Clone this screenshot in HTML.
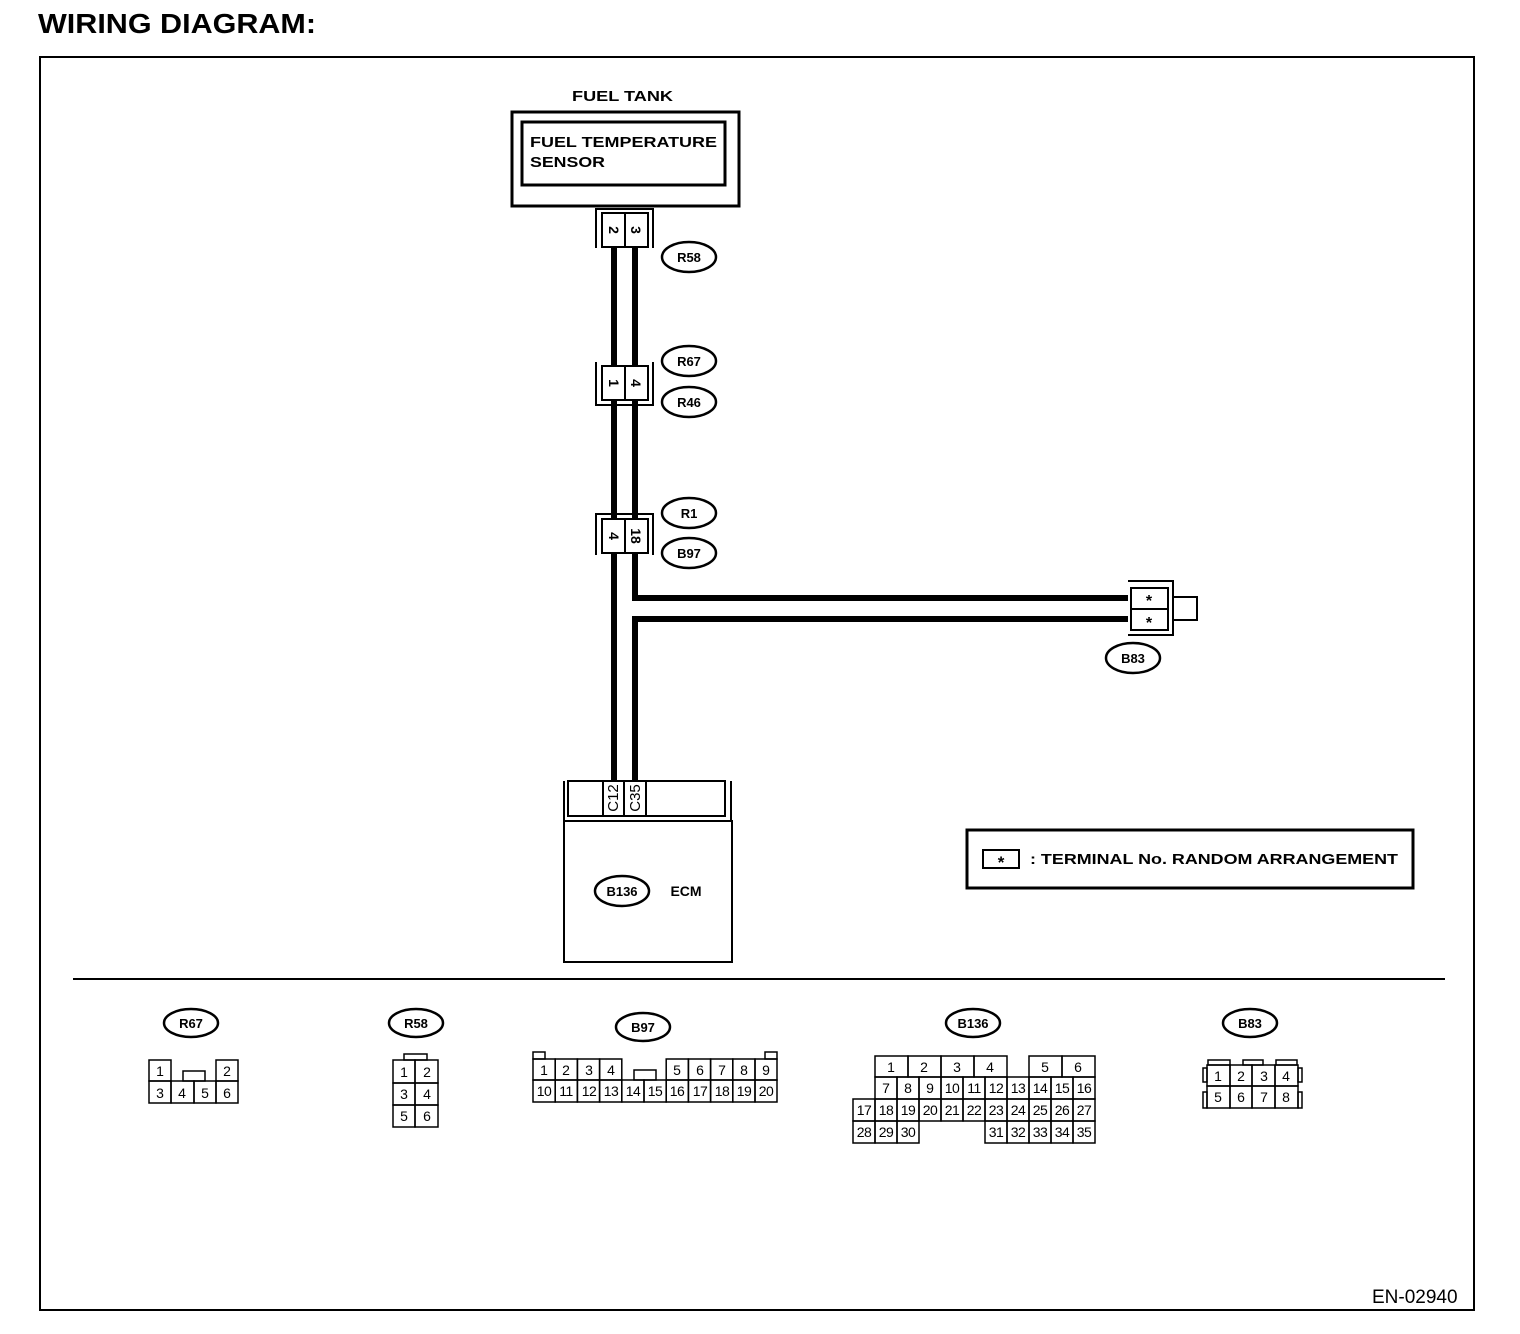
<!DOCTYPE html>
<html><head><meta charset="utf-8"><style>
html,body{margin:0;padding:0;background:#fff;}
svg{display:block;}
text{font-family:"Liberation Sans",Arial,sans-serif;fill:#000;}
.b{font-weight:bold;}
.d{font-size:14px;text-anchor:middle;}
</style></head><body>
<svg width="1520" height="1334" viewBox="0 0 1520 1334" xmlns="http://www.w3.org/2000/svg">
<text x="38" y="33" class="b" font-size="28" textLength="278" lengthAdjust="spacingAndGlyphs">WIRING DIAGRAM:</text>
<rect x="40" y="57" width="1434" height="1253" fill="none" stroke="#000" stroke-width="2"/>

<g fill="none" stroke="#000">
<rect x="512" y="112" width="227" height="94" stroke-width="3"/>
<rect x="522" y="122" width="203" height="63" stroke-width="3"/>
<path d="M614,248 V781" stroke-width="6"/>
<path d="M635,248 V598 H1128" stroke-width="6"/>
<path d="M1128,619 H635 V781" stroke-width="6"/>
<path d="M596,208 V248 M653,208 V248 M596,209 H653" stroke-width="2"/>
<rect x="602" y="213" width="46" height="34" fill="#fff" stroke-width="2"/>
<line x1="625" y1="213" x2="625" y2="247" stroke-width="2"/>
<path d="M596,362 V405 H653 V362" stroke-width="2"/>
<rect x="602" y="366" width="46" height="34" fill="#fff" stroke-width="2"/>
<line x1="625" y1="366" x2="625" y2="400" stroke-width="2"/>
<path d="M596,555 V514 H653 V555" stroke-width="2"/>
<rect x="602" y="519" width="46" height="34" fill="#fff" stroke-width="2"/>
<line x1="625" y1="519" x2="625" y2="553" stroke-width="2"/>
<ellipse cx="689" cy="257" rx="27" ry="15" stroke-width="2.5"/>
<ellipse cx="689" cy="361" rx="27" ry="15" stroke-width="2.5"/>
<ellipse cx="689" cy="402" rx="27" ry="15" stroke-width="2.5"/>
<ellipse cx="689" cy="513" rx="27" ry="15" stroke-width="2.5"/>
<ellipse cx="689" cy="553" rx="27" ry="15" stroke-width="2.5"/>
<path d="M1128,581 H1173 V635 H1128" stroke-width="2"/>
<rect x="1131" y="588" width="37" height="42" fill="#fff" stroke-width="2"/>
<line x1="1131" y1="609" x2="1168" y2="609" stroke-width="2"/>
<rect x="1173" y="597" width="24" height="23" stroke-width="2"/>
<ellipse cx="1133" cy="658" rx="27" ry="15" stroke-width="2.5"/>
<path d="M564,781 V820 M731,781 V820" stroke-width="2"/>
<rect x="568" y="781" width="157" height="35" stroke-width="2"/>
<line x1="603" y1="781" x2="603" y2="816" stroke-width="2"/>
<line x1="624" y1="781" x2="624" y2="816" stroke-width="2"/>
<line x1="646" y1="781" x2="646" y2="816" stroke-width="2"/>
<rect x="564" y="821" width="168" height="141" stroke-width="2"/>
<ellipse cx="622" cy="891" rx="27" ry="15" stroke-width="2.5"/>
<rect x="967" y="830" width="446" height="58" stroke-width="3"/>
<rect x="983" y="850" width="36" height="18" stroke-width="2"/>
<line x1="73" y1="979" x2="1445" y2="979" stroke-width="2"/>
<ellipse cx="191" cy="1023" rx="27" ry="14" stroke-width="2.5"/>
<ellipse cx="416" cy="1023" rx="27" ry="14" stroke-width="2.5"/>
<ellipse cx="643" cy="1027" rx="27" ry="14" stroke-width="2.5"/>
<ellipse cx="973" cy="1023" rx="27" ry="14" stroke-width="2.5"/>
<ellipse cx="1250" cy="1023" rx="27" ry="14" stroke-width="2.5"/>
</g>

<text x="572" y="101" class="b" font-size="15" textLength="101" lengthAdjust="spacingAndGlyphs">FUEL TANK</text>
<text x="530" y="147" class="b" font-size="15" textLength="187" lengthAdjust="spacingAndGlyphs">FUEL TEMPERATURE</text>
<text x="530" y="167" class="b" font-size="15" textLength="75" lengthAdjust="spacingAndGlyphs">SENSOR</text>
<g class="b" font-size="13" text-anchor="middle">
<text x="689" y="262">R58</text><text x="689" y="366">R67</text><text x="689" y="407">R46</text>
<text x="689" y="518">R1</text><text x="689" y="558">B97</text>
<text x="1133" y="663">B83</text><text x="622" y="896">B136</text>
<text x="191" y="1028">R67</text><text x="416" y="1028">R58</text><text x="643" y="1032">B97</text>
<text x="973" y="1028">B136</text><text x="1250" y="1028">B83</text>
</g>
<g font-size="14" class="b">
<text transform="translate(609,230) rotate(90)" text-anchor="middle">2</text>
<text transform="translate(631,230) rotate(90)" text-anchor="middle">3</text>
<text transform="translate(609,383) rotate(90)" text-anchor="middle">1</text>
<text transform="translate(631,383) rotate(90)" text-anchor="middle">4</text>
<text transform="translate(609,536) rotate(90)" text-anchor="middle">4</text>
<text transform="translate(631,536) rotate(90)" text-anchor="middle">18</text>
<text transform="translate(618,798) rotate(-90)" text-anchor="middle" font-weight="normal" font-size="15">C12</text>
<text transform="translate(640,798) rotate(-90)" text-anchor="middle" font-weight="normal" font-size="15">C35</text>
</g>
<text x="1149" y="606" class="b" font-size="16" text-anchor="middle">*</text>
<text x="1149" y="628" class="b" font-size="16" text-anchor="middle">*</text>
<text x="686" y="896" class="b" font-size="14" text-anchor="middle">ECM</text>
<text x="1001" y="868" class="b" font-size="17" text-anchor="middle">*</text>
<text x="1030" y="864" class="b" font-size="15" textLength="368" lengthAdjust="spacingAndGlyphs">: TERMINAL No. RANDOM ARRANGEMENT</text>
<text x="1372" y="1303" font-size="19">EN-02940</text>

<g fill="none" stroke="#000" stroke-width="1.5">
<rect x="149" y="1060" width="22" height="21"/><rect x="216" y="1060" width="22" height="21"/>
<rect x="183" y="1071" width="22" height="10"/>
<rect x="149" y="1081" width="22" height="22"/><rect x="171" y="1081" width="23" height="22"/>
<rect x="194" y="1081" width="22" height="22"/><rect x="216" y="1081" width="22" height="22"/>
</g>
<g class="d"><text x="160" y="1076">1</text><text x="227" y="1076">2</text>
<text x="160" y="1098">3</text><text x="182" y="1098">4</text><text x="205" y="1098">5</text><text x="227" y="1098">6</text></g>

<g fill="none" stroke="#000" stroke-width="1.5">
<rect x="404" y="1054" width="23" height="6"/>
<rect x="393" y="1060" width="22" height="23"/><rect x="415" y="1060" width="23" height="23"/>
<rect x="393" y="1083" width="22" height="22"/><rect x="415" y="1083" width="23" height="22"/>
<rect x="393" y="1105" width="22" height="22"/><rect x="415" y="1105" width="23" height="22"/>
</g>
<g class="d"><text x="404" y="1077">1</text><text x="427" y="1077">2</text>
<text x="404" y="1099">3</text><text x="427" y="1099">4</text>
<text x="404" y="1121">5</text><text x="427" y="1121">6</text></g>

<g fill="none" stroke="#000" stroke-width="1.5">
<rect x="533" y="1052" width="12" height="7"/><rect x="765" y="1052" width="12" height="7"/>
<rect x="533" y="1059" width="22.2" height="21"/><rect x="555.2" y="1059" width="22.2" height="21"/>
<rect x="577.4" y="1059" width="22.2" height="21"/><rect x="599.6" y="1059" width="22.2" height="21"/>
<rect x="666.2" y="1059" width="22.2" height="21"/><rect x="688.4" y="1059" width="22.2" height="21"/>
<rect x="710.6" y="1059" width="22.2" height="21"/><rect x="732.8" y="1059" width="22.2" height="21"/>
<rect x="755" y="1059" width="22" height="21"/>
<rect x="634" y="1070" width="22" height="10"/>
<rect x="533" y="1080" width="22.2" height="22"/><rect x="555.2" y="1080" width="22.2" height="22"/>
<rect x="577.4" y="1080" width="22.2" height="22"/><rect x="599.6" y="1080" width="22.2" height="22"/>
<rect x="621.8" y="1080" width="22.2" height="22"/><rect x="644" y="1080" width="22.2" height="22"/>
<rect x="666.2" y="1080" width="22.2" height="22"/><rect x="688.4" y="1080" width="22.2" height="22"/>
<rect x="710.6" y="1080" width="22.2" height="22"/><rect x="732.8" y="1080" width="22.2" height="22"/>
<rect x="755" y="1080" width="22" height="22"/>
</g>
<g class="d">
<text x="544" y="1075">1</text><text x="566" y="1075">2</text><text x="589" y="1075">3</text><text x="611" y="1075">4</text>
<text x="677" y="1075">5</text><text x="700" y="1075">6</text><text x="722" y="1075">7</text><text x="744" y="1075">8</text><text x="766" y="1075">9</text>
</g>
<g class="d" font-size="13" letter-spacing="-0.5">
<text x="544" y="1096">10</text><text x="566" y="1096">11</text><text x="589" y="1096">12</text><text x="611" y="1096">13</text>
<text x="633" y="1096">14</text><text x="655" y="1096">15</text><text x="677" y="1096">16</text><text x="700" y="1096">17</text>
<text x="722" y="1096">18</text><text x="744" y="1096">19</text><text x="766" y="1096">20</text>
</g>

<g fill="none" stroke="#000" stroke-width="1.5">
<rect x="875" y="1056" width="33" height="21"/><rect x="908" y="1056" width="33" height="21"/>
<rect x="941" y="1056" width="33" height="21"/><rect x="974" y="1056" width="33" height="21"/>
<rect x="1029" y="1056" width="33" height="21"/><rect x="1062" y="1056" width="33" height="21"/>
<rect x="875" y="1077" width="22" height="22"/><rect x="897" y="1077" width="22" height="22"/>
<rect x="919" y="1077" width="22" height="22"/><rect x="941" y="1077" width="22" height="22"/>
<rect x="963" y="1077" width="22" height="22"/><rect x="985" y="1077" width="22" height="22"/>
<rect x="1007" y="1077" width="22" height="22"/><rect x="1029" y="1077" width="22" height="22"/>
<rect x="1051" y="1077" width="22" height="22"/><rect x="1073" y="1077" width="22" height="22"/>
<rect x="853" y="1099" width="22" height="22"/><rect x="875" y="1099" width="22" height="22"/>
<rect x="897" y="1099" width="22" height="22"/><rect x="919" y="1099" width="22" height="22"/>
<rect x="941" y="1099" width="22" height="22"/><rect x="963" y="1099" width="22" height="22"/>
<rect x="985" y="1099" width="22" height="22"/><rect x="1007" y="1099" width="22" height="22"/>
<rect x="1029" y="1099" width="22" height="22"/><rect x="1051" y="1099" width="22" height="22"/>
<rect x="1073" y="1099" width="22" height="22"/>
<rect x="853" y="1121" width="22" height="22"/><rect x="875" y="1121" width="22" height="22"/>
<rect x="897" y="1121" width="22" height="22"/>
<rect x="985" y="1121" width="22" height="22"/><rect x="1007" y="1121" width="22" height="22"/>
<rect x="1029" y="1121" width="22" height="22"/><rect x="1051" y="1121" width="22" height="22"/>
<rect x="1073" y="1121" width="22" height="22"/>
</g>
<g class="d">
<text x="891" y="1072">1</text><text x="924" y="1072">2</text><text x="957" y="1072">3</text><text x="990" y="1072">4</text>
<text x="1045" y="1072">5</text><text x="1078" y="1072">6</text>
<text x="886" y="1093">7</text><text x="908" y="1093">8</text><text x="930" y="1093">9</text>
</g>
<g class="d" font-size="13" letter-spacing="-0.5">
<text x="952" y="1093">10</text><text x="974" y="1093">11</text><text x="996" y="1093">12</text><text x="1018" y="1093">13</text>
<text x="1040" y="1093">14</text><text x="1062" y="1093">15</text><text x="1084" y="1093">16</text>
<text x="864" y="1115">17</text><text x="886" y="1115">18</text><text x="908" y="1115">19</text><text x="930" y="1115">20</text>
<text x="952" y="1115">21</text><text x="974" y="1115">22</text><text x="996" y="1115">23</text><text x="1018" y="1115">24</text>
<text x="1040" y="1115">25</text><text x="1062" y="1115">26</text><text x="1084" y="1115">27</text>
<text x="864" y="1137">28</text><text x="886" y="1137">29</text><text x="908" y="1137">30</text>
<text x="996" y="1137">31</text><text x="1018" y="1137">32</text><text x="1040" y="1137">33</text>
<text x="1062" y="1137">34</text><text x="1084" y="1137">35</text>
</g>

<g fill="none" stroke="#000" stroke-width="1.5">
<rect x="1208" y="1060" width="22" height="5"/><rect x="1243" y="1060" width="20" height="5"/><rect x="1276" y="1060" width="21" height="5"/>
<rect x="1203" y="1068" width="4" height="14"/><rect x="1203" y="1092" width="4" height="16"/>
<rect x="1298" y="1068" width="4" height="14"/><rect x="1298" y="1092" width="4" height="16"/>
<rect x="1207" y="1065" width="23" height="21"/><rect x="1230" y="1065" width="22" height="21"/>
<rect x="1252" y="1065" width="23" height="21"/><rect x="1275" y="1065" width="23" height="21"/>
<rect x="1207" y="1086" width="23" height="22"/><rect x="1230" y="1086" width="22" height="22"/>
<rect x="1252" y="1086" width="23" height="22"/><rect x="1275" y="1086" width="23" height="22"/>
</g>
<g class="d"><text x="1218" y="1081">1</text><text x="1241" y="1081">2</text><text x="1264" y="1081">3</text><text x="1286" y="1081">4</text>
<text x="1218" y="1102">5</text><text x="1241" y="1102">6</text><text x="1264" y="1102">7</text><text x="1286" y="1102">8</text></g>
</svg>
</body></html>
